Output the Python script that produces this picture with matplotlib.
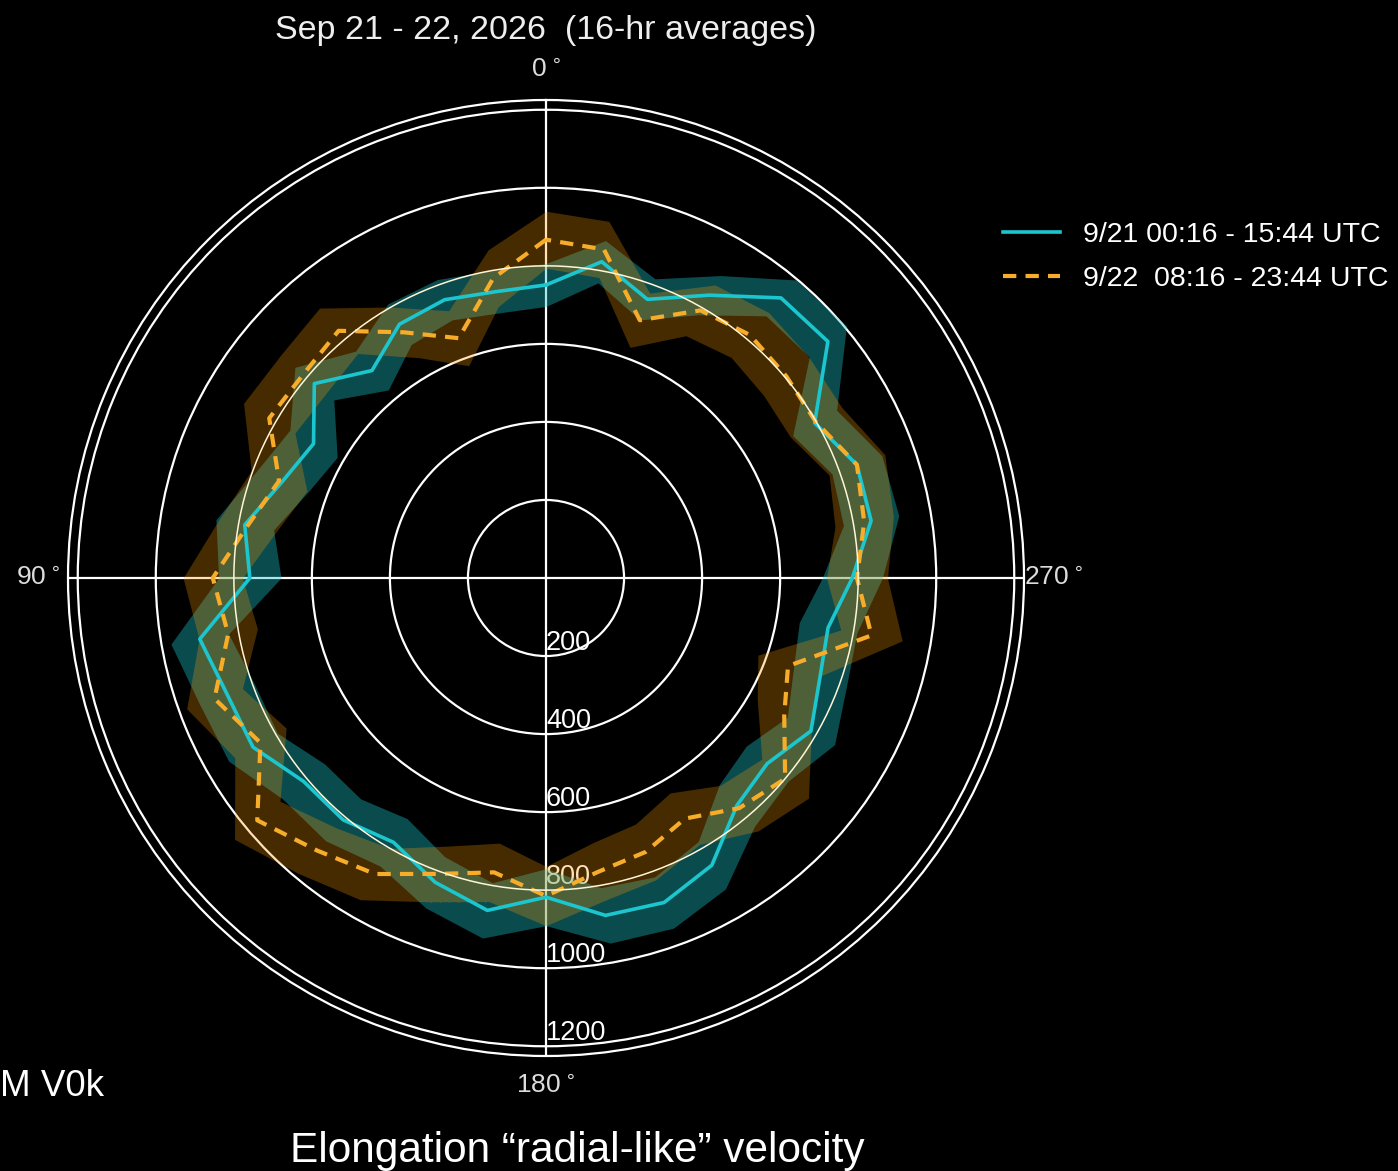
import numpy as np
import matplotlib
matplotlib.use("Agg")
import matplotlib.pyplot as plt

plt.rcParams['font.family'] = ['Liberation Sans', 'DejaVu Sans']

# Position angle of each bin (degrees, 0 at top, increasing counter-clockwise)
angles_deg = list(range(0, 360, 10))

# 9/21 00:16 - 15:44 UTC : mean speed and spread per bin
speed_day1 = [751, 745, 759, 751, 694, 775, 688, 720, 784, 759,
              901, 870, 867, 811, 809, 782, 830, 865, 818, 878,
              885, 850, 761, 740, 784, 747, 734, 785, 846, 848,
              795, 943, 937, 837, 760, 823]
spread_day1 = [55, 55, 55, 60, 65, 65, 70, 72, 75, 80,
               75, 75, 72, 70, 70, 70, 70, 72, 73, 72,
               70, 70, 70, 70, 70, 72, 75, 77, 72, 68,
               65, 62, 60, 58, 56, 55]

# 9/22 08:16 - 23:44 UTC : mean speed and spread per bin
speed_day2 = [867, 780, 654, 727, 827, 812, 819, 728, 776, 854,
              827, 904, 845, 966, 912, 876, 807, 766, 815, 765,
              747, 712, 770, 800, 705, 660, 847, 797, 828, 848,
              799, 804, 813, 792, 703, 855]
spread_day2 = [73, 74, 75, 75, 76, 76, 76, 76, 76, 76,
               76, 76, 76, 76, 76, 76, 76, 76, 76, 76,
               76, 76, 76, 78, 80, 82, 80, 78, 76, 76,
               76, 76, 75, 75, 74, 73]

r_ticks = [200, 400, 600, 800, 1000, 1200]
theta_ticks = [0, 90, 180, 270]
label_day1 = "9/21 00:16 - 15:44 UTC"
label_day2 = "9/22  08:16 - 23:44 UTC"
title_text = "Sep 21 - 22, 2026  (16-hr averages)"
side_text = "M V0k"
caption_text = "Elongation \u201cradial-like\u201d velocity"

CYAN = "#1cc6cf"
CYAN_FILL = "#1cc6cf"
ORANGE = "#f7ad2a"
ORANGE_FILL = "#ff9800"

fig = plt.figure(figsize=(13.98, 11.71), dpi=100, facecolor="black")
ax = fig.add_axes([68 / 1398, 115 / 1171, 956 / 1398, 956 / 1171],
                  projection="polar", facecolor="black")
ax.set_theta_zero_location("N")
ax.set_theta_direction(1)


def closed(a):
    a = np.asarray(a, dtype=float)
    return np.append(a, a[0])


theta = np.deg2rad(closed(angles_deg))
theta[-1] += 2 * np.pi

for speed, spread, color, fill, alpha, ls, lw, lab in [
        (speed_day1, spread_day1, CYAN, CYAN_FILL, 0.38, "-", 2.6, label_day1),
        (speed_day2, spread_day2, ORANGE, ORANGE_FILL, 0.28, (0, (3.2, 2.2)), 3.0, label_day2)]:
    r = closed(speed)
    s = closed(spread)
    ax.fill_between(theta, r - s, r + s, color=fill, alpha=alpha,
                    linewidth=0, zorder=2)
    ax.plot(theta, r, color=color, lw=lw, ls=ls, label=lab, zorder=4)

# thin reference ring at 800
ring_t = np.linspace(0, 2 * np.pi, 361)
ax.plot(ring_t, np.full_like(ring_t, 800.0), color="#fff6d8", lw=1.1, zorder=5)

ax.set_ylim(0, 1225)
ax.set_yticks(r_ticks)
ax.set_yticklabels([str(v) for v in r_ticks], color="white", fontsize=19.5)
ax.set_rlabel_position(180)
ax.set_thetagrids(theta_ticks, labels=[f"{v}$\\,^{{\\circ}}$" for v in theta_ticks],
                  color="#dcdcdc", fontsize=19)
ax.tick_params(axis="x", pad=11)
ax.grid(True, color="white", lw=1.6)
for tick in ax.yaxis.get_major_ticks():
    if tick.get_loc() == 800:
        tick.gridline.set_visible(False)
ax.spines["polar"].set_color("white")
ax.spines["polar"].set_linewidth(1.6)

leg = fig.legend(loc="center left", bbox_to_anchor=(1003 / 1398, 1 - 257 / 1171),
                 frameon=False, fontsize=20.5, borderaxespad=0, borderpad=0,
                 handlelength=2.0, handletextpad=0.8, labelspacing=0.6)
for t in leg.get_texts():
    t.set_color("white")

fig.text(546 / 1398, 1 - 31 / 1171, title_text, ha="center", va="center",
         color="#eeeeee", fontsize=24.5)
fig.text(0 / 1398, 1 - 1087 / 1171, side_text, ha="left", va="center",
         color="white", fontsize=26.5)
fig.text(577 / 1398, 1 - 1151 / 1171, caption_text, ha="center", va="center",
         color="white", fontsize=30.5)

fig.savefig("out.png", dpi=100, facecolor="black")
